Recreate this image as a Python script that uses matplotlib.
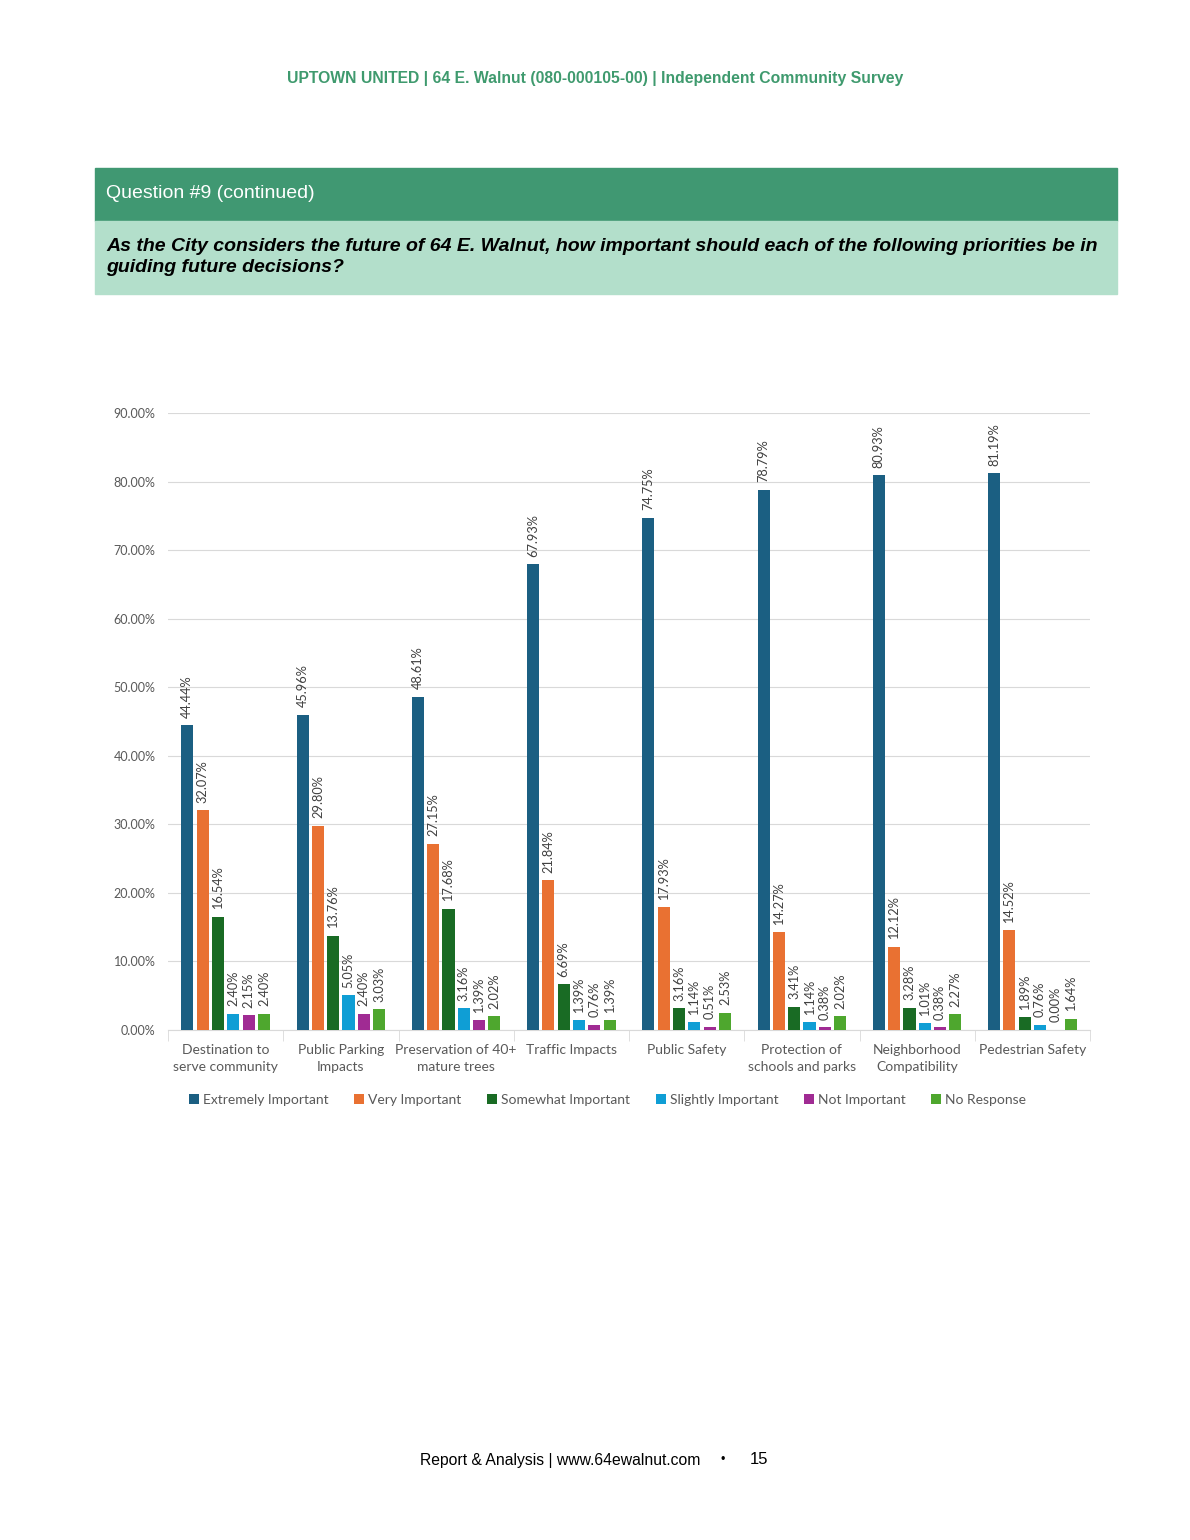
import numpy as np
import matplotlib.pyplot as plt
from matplotlib.patches import Rectangle
from matplotlib.ticker import FixedLocator

plt.rcParams['font.family'] = ['Lato', 'DejaVu Sans']

categories = ["Destination to\nserve community", "Public Parking\nImpacts",
              "Preservation of 40+\nmature trees", "Traffic Impacts",
              "Public Safety", "Protection of\nschools and parks",
              "Neighborhood\nCompatibility", "Pedestrian Safety"]
series = ["Extremely Important", "Very Important", "Somewhat Important",
          "Slightly Important", "Not Important", "No Response"]
extremely = [44.44, 45.96, 48.61, 67.93, 74.75, 78.79, 80.93, 81.19]
very = [32.07, 29.80, 27.15, 21.84, 17.93, 14.27, 12.12, 14.52]
somewhat = [16.54, 13.76, 17.68, 6.69, 3.16, 3.41, 3.28, 1.89]
slightly = [2.40, 5.05, 3.16, 1.39, 1.14, 1.14, 1.01, 0.76]
not_imp = [2.15, 2.40, 1.39, 0.76, 0.51, 0.38, 0.38, 0.00]
no_resp = [2.40, 3.03, 2.02, 1.39, 2.53, 2.02, 2.27, 1.64]
colors = ["#1b5f82", "#e97132", "#196b24", "#0f9ed5", "#a02b93", "#4ea72e"]

values = [extremely, very, somewhat, slightly, not_imp, no_resp]

fig = plt.figure(figsize=(11.9, 15.4), dpi=100)
W, H = 1190, 1540
arial = ["Liberation Sans", "DejaVu Sans"]

# header text
fig.text(595 / W, 1 - 78 / H, "UPTOWN UNITED | 64 E. Walnut (080-000105-00) | Independent Community Survey",
         ha="center", va="center", color="#3f9a6e", fontsize=11.3, fontweight="bold",
         family=arial)

# banners
fig.patches.append(Rectangle((95 / W, 1 - 221 / H), 1022 / W, 53 / H,
                             transform=fig.transFigure, color="#409872", zorder=0))
fig.patches.append(Rectangle((95 / W, 1 - 294 / H), 1022 / W, 73 / H,
                             transform=fig.transFigure, color="#b3dfcb", zorder=0))
fig.text(106 / W, 1 - 194 / H, "Question #9 (continued)", ha="left", va="center",
         color="white", fontsize=14, family=arial)
fig.text(106 / W, 1 - 257 / H,
         "As the City considers the future of 64 E. Walnut, how important should each of the following priorities be in\nguiding future decisions?",
         ha="left", va="center", color="black", fontsize=14, fontweight="bold",
         fontstyle="italic", linespacing=1.3, family=arial)

# chart
ax = fig.add_axes([168 / W, 1 - 1030 / H, 922 / W, 617 / H])
x = np.arange(len(categories))
n = len(series)
step = 0.133
bw = 0.105
for i, (name, vals, c) in enumerate(zip(series, values, colors)):
    pos = x + (i - (n - 1) / 2) * step
    ax.bar(pos, vals, width=bw, color=c, label=name, zorder=3)
    for p, v in zip(pos, vals):
        ax.text(p, v + 1.1, f"{v:.2f}%", rotation=90, ha="center", va="bottom",
                fontsize=9.2, color="#404040")

ax.set_xlim(-0.5, len(categories) - 0.5)
ax.set_ylim(0, 90)
ax.set_yticks(np.arange(0, 91, 10))
ax.set_yticklabels([f"{t:.2f}%" for t in np.arange(0, 91, 10)])
ax.grid(axis="y", color="#d9d9d9", lw=0.8, zorder=0)
ax.set_xticks(x)
ax.set_xticklabels(categories, fontsize=10, color="#595959", linespacing=1.5)
ax.xaxis.set_minor_locator(FixedLocator(np.arange(-0.5, len(categories), 1)))
ax.tick_params(axis="x", which="major", length=0, pad=10)
ax.tick_params(axis="x", which="minor", length=8, color="#d9d9d9")
ax.tick_params(axis="y", length=0, labelsize=9, colors="#595959", pad=9)
for s in ["top", "right", "left"]:
    ax.spines[s].set_visible(False)
ax.spines["bottom"].set_color("#d9d9d9")

ax.legend(loc="center", bbox_to_anchor=(0.477, -0.113), ncol=6, frameon=False,
          fontsize=10, handlelength=0.7, handleheight=0.7, handletextpad=0.3,
          columnspacing=1.85, labelcolor="#595959")

# footer
fig.text(560 / W, 1 - 1460 / H, "Report & Analysis | www.64ewalnut.com", ha="center",
         va="center", fontsize=11.3, family=arial)
fig.text(723 / W, 1 - 1460 / H, "•", ha="center", va="center", fontsize=9,
         family=arial)
fig.text(759 / W, 1 - 1460 / H, "15", ha="center", va="center", fontsize=12,
         family=arial)

fig.savefig("out.png", dpi=100)
